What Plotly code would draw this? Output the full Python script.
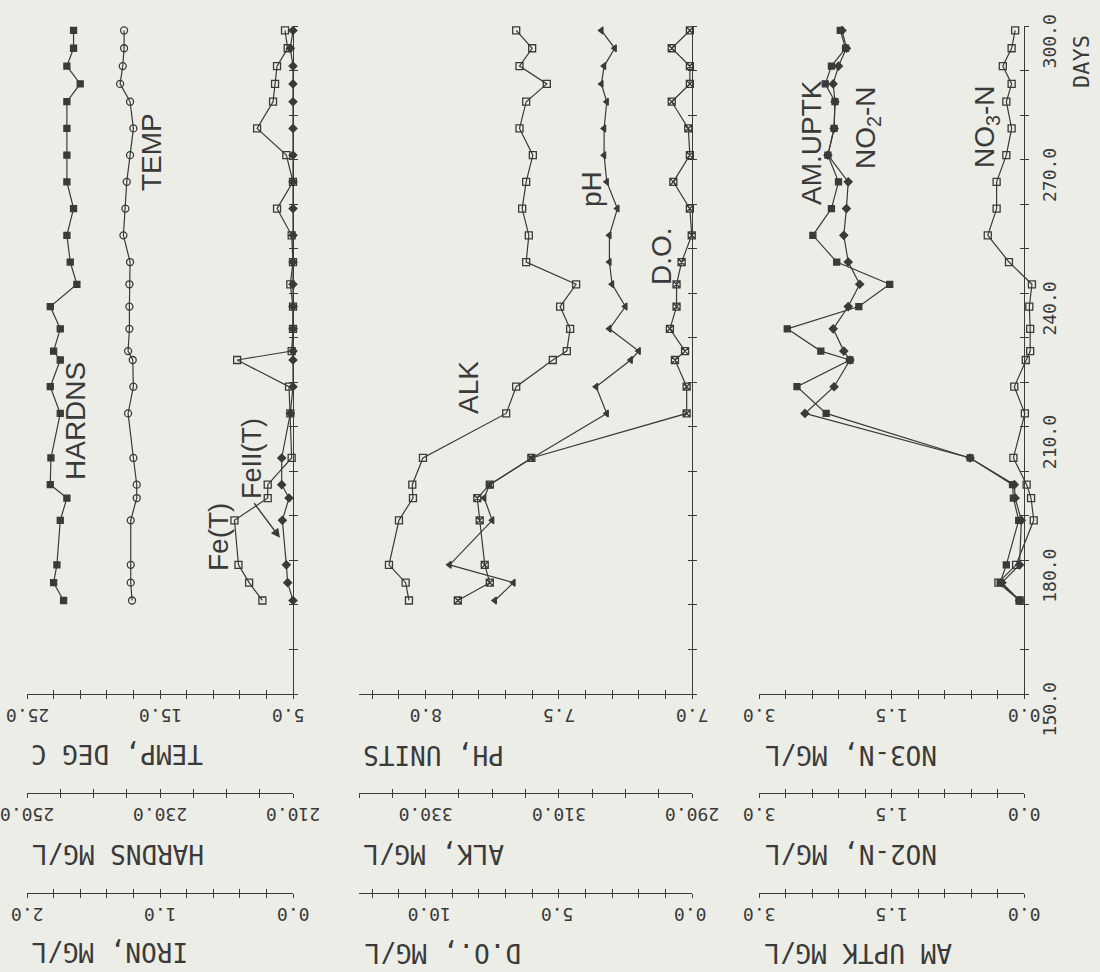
import plotly.graph_objects as go

# ---------------- data ----------------
days = [171, 175, 179, 189, 194, 197, 203, 213, 219, 225, 227, 232, 237,
        242, 247, 253, 259, 265, 271, 277, 283, 287, 291, 295, 299]

hardns = [244.5, 246.0, 245.5, 245.0, 244.0, 246.5, 246.4, 245.0, 246.5, 245.0, 246.0, 245.0, 246.5,
          242.5, 243.5, 244.0, 243.0, 244.0, 244.0, 244.0, 244.0, 242.0, 244.0, 243.0, 243.0]
temp = [17.1, 17.2, 17.2, 17.2, 16.75, 16.75, 17.0, 17.4, 17.0, 17.05, 17.4, 17.3, 17.3,
        17.3, 17.25, 17.75, 17.6, 17.5, 17.25, 17.0, 17.25, 18.0, 17.8, 17.7, 17.7]
fe_t = [0.23, 0.33, 0.41, 0.44, 0.19, 0.19, 0.01, 0.02, 0.03, 0.42, 0.01, 0.0, 0.0,
        0.02, 0.0, 0.01, 0.12, 0.0, 0.05, 0.27, 0.15, 0.135, 0.12, 0.04, 0.06]
fe2_t = [0.0, 0.04, 0.05, 0.08, 0.03, 0.085, 0.085, 0.02, 0.0, 0.0, 0.0, 0.0, 0.0,
         0.0, 0.0, 0.0, 0.0, 0.0, 0.0, 0.0, 0.0, 0.0, 0.0, 0.02, 0.0]

alk = [332.5, 333.0, 335.5, 334.0, 331.9, 332.0, 330.4, 317.9, 316.4, 310.9, 308.8, 308.3, 309.8,
       307.4, 314.9, 314.5, 315.5, 314.9, 313.9, 315.9, 314.9, 311.8, 315.9, 314.0, 316.4]
ph = [7.74, 7.67, 7.91, 7.75, 7.78, 7.76, 7.60, 7.32, 7.36, 7.23, 7.20, 7.31, 7.25,
      7.30, 7.31, 7.31, 7.28, 7.32, 7.33, 7.33, 7.32, 7.34, 7.33, 7.29, 7.34]
do = [8.79, 7.59, 7.78, 7.97, 8.06, 7.59, 6.03, 0.2, 0.2, 0.64, 0.26, 0.83, 0.58,
      0.58, 0.39, 0.01, 0.08, 0.7, 0.08, 0.14, 0.76, 0.08, 0.08, 0.76, 0.08]

am_uptk = [0.05, 0.27, 0.2, 0.06, 0.12, 0.13, 0.61, 2.24, 2.57, 1.97, 2.30, 2.68, 1.87,
           1.52, 2.12, 2.39, 2.18, 2.10, 2.22, 2.15, 2.14, 2.25, 2.18, 2.02, 2.08]
no2_n = [0.05, 0.25, 0.05, 0.03, 0.1, 0.11, 0.61, 2.48, 2.15, 1.97, 2.04, 2.16, 1.99,
         1.86, 1.99, 2.04, 2.01, 1.99, 2.22, 2.15, 2.14, 2.16, 2.10, 2.01, 2.06]
no3_n = [0.05, 0.29, 0.09, -0.11, -0.08, -0.03, 0.12, -0.01, 0.11, -0.02, -0.07, -0.07, -0.06,
         -0.09, 0.17, 0.41, 0.31, 0.31, 0.20, 0.14, 0.20, 0.14, 0.24, 0.14, 0.10]

# ---------------- layout helpers ----------------
W, H = 1100, 972
def px(x):
    return x / W
def py(y):
    return 1 - y / H

INK = '#3a3a3a'
BG = '#ecede6'
MONO = 'DejaVu Sans Mono'
SANS = 'Liberation Sans'
CHAR = 18 * 0.602  # advance of one monospace tick-label character

YDOM = [py(694), py(26)]
P1 = [px(27), px(293)]
P2 = [px(359), px(692)]
P3 = [px(759), px(1024)]
POS = [py(694), py(793), py(893)]

fig = go.Figure()

def add(x, xa, ya, symbol, size):
    fig.add_trace(go.Scatter(
        x=x, y=days, xaxis=xa, yaxis=ya, mode='lines+markers',
        line=dict(color=INK, width=1.2),
        marker=dict(symbol=symbol, size=size, color=INK, line=dict(color=INK, width=1.3)),
        cliponaxis=False, showlegend=False, hoverinfo='skip'))

def empty(xa, ya):
    fig.add_trace(go.Scatter(x=[], y=[], xaxis=xa, yaxis=ya, mode='markers',
                             showlegend=False, hoverinfo='skip'))

add(hardns, 'x2', 'y', 'square', 6)
add(temp, 'x', 'y', 'circle-open', 7)
add(fe_t, 'x3', 'y', 'square-open', 7)
add(fe2_t, 'x3', 'y', 'diamond', 6)
add(alk, 'x5', 'y2', 'square-open', 7)
add(ph, 'x4', 'y2', 'triangle-left', 6)
add(do, 'x6', 'y2', 'square-x-open', 7)
empty('x7', 'y3')
add(am_uptk, 'x9', 'y3', 'square', 6)
add(no2_n, 'x8', 'y3', 'diamond', 6)
add(no3_n, 'x10', 'y4', 'square-open', 7)

TICKFONT = dict(family=MONO, size=18, color=INK)

def val_axis(rng, tick0, dtick, mdtick, nch, inside=False, **kw):
    d = dict(range=rng, tick0=tick0, dtick=dtick, tickformat='.1f',
             ticks='inside' if inside else 'outside', ticklen=4, tickwidth=1.2, tickcolor=INK,
             showline=not inside, linecolor=INK, linewidth=1.3, showgrid=False, zeroline=False,
             showticklabels=not inside, tickangle=180, tickfont=TICKFONT,
             ticklabelshift=int(round(nch * CHAR / 2)), ticklabelstandoff=6,
             ticklabeloverflow='allow',
             minor=dict(tick0=tick0, dtick=mdtick, ticks='inside' if inside else 'outside',
                        ticklen=4, tickwidth=1.2, tickcolor=INK, showgrid=False),
             side='bottom', fixedrange=True, automargin=False)
    d.update(kw)
    return d

def day_axis(labels, inside=False, **kw):
    d = dict(range=[150, 300], domain=YDOM, tick0=150, dtick=30 if labels else 10,
             tickformat='.1f', ticks='inside' if inside else 'outside', ticklen=4,
             tickwidth=1.2, tickcolor=INK, showline=not inside, linecolor=INK, linewidth=1.3,
             showgrid=False, zeroline=False, showticklabels=labels and not inside,
             tickangle=-90, tickfont=TICKFONT, side='right', fixedrange=True, automargin=False,
             ticklabelshift=18, ticklabelstandoff=5, ticklabeloverflow='allow')
    if labels:
        d['minor'] = dict(tick0=150, dtick=10, ticks='inside' if inside else 'outside',
                          ticklen=4, tickwidth=1.2, tickcolor=INK, showgrid=False)
    d.update(kw)
    return d

specs = [
    # (axis id, base, range, tick0, dtick, minor dtick, label chars, position index, domain, yref)
    ('x', None, [25, 5], 5, 10, 2, 3.8, 0, P1, 'y'),
    ('x2', 'x', [250, 210], 210, 20, 5, 5, 1, P1, 'y'),
    ('x3', 'x', [2.0, 0.0], 0, 1, 0.2, 3, 2, P1, 'y'),
    ('x4', None, [8.25, 7.0], 7.0, 0.5, 0.1, 3, 0, P2, 'y2'),
    ('x5', 'x4', [340, 290], 290, 20, 5, 5, 1, P2, 'y2'),
    ('x6', 'x4', [12.5, 0.0], 0, 5, 1, 3.3, 2, P2, 'y2'),
    ('x7', None, [3.0, 0.0], 0, 1.5, 0.3, 3, 0, P3, 'y3'),
    ('x8', 'x7', [3.0, 0.0], 0, 1.5, 0.3, 3, 1, P3, 'y3'),
    ('x9', 'x7', [3.0, 0.0], 0, 1.5, 0.3, 3, 2, P3, 'y3'),
]

layout = {}
dup = 11
for aid, base, rng, t0, dt, mdt, nch, pi, dom, yref in specs:
    key = 'xaxis' if aid == 'x' else 'xaxis' + aid[1:]
    if base is None:
        layout[key] = val_axis(rng, t0, dt, mdt, nch, domain=dom, anchor=yref)
    else:
        layout[key] = val_axis(rng, t0, dt, mdt, nch, domain=dom, overlaying=base,
                               anchor='free', position=POS[pi])
    # duplicate axis with inward ticks -> crossing "+" ticks
    dkey = 'xaxis%d' % dup
    layout[dkey] = val_axis(rng, t0, dt, mdt, nch, inside=True, domain=dom,
                            overlaying=base or aid, anchor='free', position=POS[pi])
    empty('x%d' % dup, yref)
    dup += 1

# hidden data axes for NO3-N (values slightly below zero fall right of the day axis)
layout['xaxis10'] = dict(domain=[px(759), px(1024 + 0.2 * 265 / 3)], range=[3.0, -0.2],
                         anchor='y4', visible=False, fixedrange=True, automargin=False)
layout['yaxis4'] = dict(domain=YDOM, range=[150, 300], anchor='x10', visible=False,
                        fixedrange=True, automargin=False)

layout['yaxis'] = day_axis(False, anchor='x')
layout['yaxis2'] = day_axis(False, anchor='x4')
layout['yaxis3'] = day_axis(True, anchor='x7')
layout['yaxis5'] = day_axis(False, inside=True, anchor='x', overlaying='y')
layout['yaxis6'] = day_axis(False, inside=True, anchor='x4', overlaying='y2')
layout['yaxis7'] = day_axis(True, inside=True, anchor='x7', overlaying='y3')
empty('x', 'y5')
empty('x4', 'y6')
empty('x7', 'y7')

fig.update_layout(**layout)

# ---------------- text ----------------
ann = []
def label(text, x, y, size=28, angle=-90, family=SANS):
    ann.append(dict(text=text, x=px(x), y=py(y), xref='paper', yref='paper', showarrow=False,
                    textangle=angle, xanchor='center', yanchor='middle',
                    font=dict(family=family, size=size, color=INK)))

label('HARDNS', 75, 421)
label('TEMP', 152, 152)
label('Fe(T)', 218, 537)
label('FeII(T)', 252, 459, size=27)
label('ALK', 468, 388)
label('pH', 592, 189)
label('D.O.', 661, 256)
label('AM.UPTK', 811, 143)
label('NO<sub>2</sub>-N', 867, 128)
label('NO<sub>3</sub>-N', 987, 127)

label('TEMP, DEG C', 117, 754, size=26, angle=180, family=MONO)
label('HARDNS MG/L', 118, 854, size=26, angle=180, family=MONO)
label('IRON, MG/L', 110, 952, size=26, angle=180, family=MONO)
label('PH, UNITS', 434, 755, size=26, angle=180, family=MONO)
label('ALK, MG/L', 434, 854, size=26, angle=180, family=MONO)
label('D.O., MG/L', 443, 953, size=26, angle=180, family=MONO)
label('NO3-N, MG/L', 851, 755, size=26, angle=180, family=MONO)
label('NO2-N, MG/L', 851, 854, size=26, angle=180, family=MONO)
label('AM UPTK MG/L', 858, 953, size=26, angle=180, family=MONO)
label('DAYS', 1082, 62, size=22, angle=-90, family=MONO)

# pointer from the FeII(T) label to its curve
ann.append(dict(text='', x=0.098, y=185.1, xref='x3', yref='y', showarrow=True,
                ax=-27, ay=-36, arrowhead=2, arrowsize=1.3, arrowwidth=1.4, arrowcolor=INK))

fig.update_layout(
    annotations=ann,
    width=W, height=H,
    margin=dict(l=0, r=0, t=0, b=0, autoexpand=False),
    paper_bgcolor=BG, plot_bgcolor='rgba(0,0,0,0)',
    showlegend=False,
)

fig.write_html('out.html')
